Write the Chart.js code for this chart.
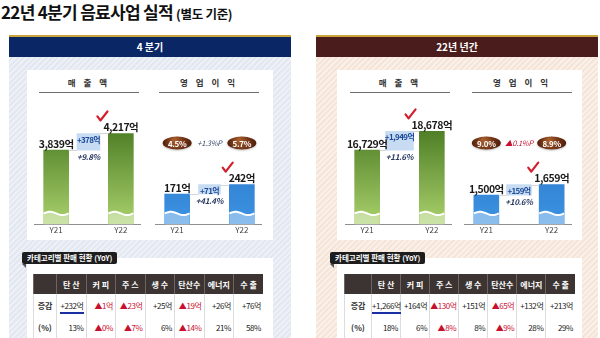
<!DOCTYPE html>
<html>
<head>
<meta charset="utf-8">
<script src="https://cdn.jsdelivr.net/npm/chart.js@4.4.0/dist/chart.umd.min.js"></script>
<style>
body { margin: 0; width: 600px; height: 338px; overflow: hidden; background: #fff; position: relative;
       font-family: "Noto Sans CJK KR", "Noto Sans", sans-serif; }
.abs { position: absolute; }
#title { left: 1px; top: -1px; font-size: 17px; font-weight: 700; color: #111; letter-spacing: -0.7px; line-height: 26px; white-space: nowrap; }
#title small { font-size: 12.5px; letter-spacing: -0.3px; }
.panel { top: 35px; height: 303px; width: 282px; border-top: 2px solid #c9a53b; }
#pQ4 { left: 9px; background: repeating-linear-gradient(135deg, #e2e7f0 0 2px, #edf0f6 2px 4px); }
#pYr { left: 316px; background: repeating-linear-gradient(135deg, #f5e4d8 0 2px, #fbf0e8 2px 4px); }
.head { position: absolute; left: 0; right: 0; top: 0; height: 20px; line-height: 20px; color: #fff;
        font-size: 10px; font-weight: 700; text-align: center; }
#pQ4 .head { background: #0b2664; }
#pYr .head { background: #4a1c1c; }
.white { background: #fff; }
.sub { width: 100px; height: 20px; font-size: 8.5px; font-weight: 700; color: #333; letter-spacing: 3px;
       text-align: center; line-height: 20px; border-bottom: 1.5px solid #6f6f6f; }
.chart { height: 150px; top: 90px; }
.tag { height: 12px; line-height: 12px; background: #1d1d1d; color: #fff; font-size: 7.5px; font-weight: 700;
       padding: 0 5px; border-radius: 2px; white-space: nowrap; }
.tag:after { content: ""; position: absolute; left: 0; top: 12px; border-top: 4px solid #555; border-left: 4px solid transparent; }
table { position: absolute; border-collapse: collapse; table-layout: fixed; font-size: 8px; }
th { background: #3b3432; color: #fff; height: 20px; padding: 0; font-weight: 700; border-left: 1px solid #6e6562; white-space: nowrap; }
td { height: 22px; padding: 0 2px 0 0; text-align: right; color: #222; border-left: 1px solid #dcdcdc; white-space: nowrap; letter-spacing: -0.4px; }
td.lbl { text-align: center; padding: 0; font-weight: 700; color: #333; letter-spacing: 0; }
tr:last-child td { border-bottom: 1px solid #8a8a8a; }
.down { color: #c8102e; }
.ul { border-bottom: 2px solid #1b2fa5; padding-bottom: 1px; }
</style>
</head>
<body>
<div id="title" class="abs">22년 4분기 음료사업 실적 <small>(별도 기준)</small></div>

<div id="pQ4" class="abs panel"><div class="head">4 분기</div></div>
<div id="pYr" class="abs panel"><div class="head">22년 년간</div></div>

<div class="abs white" style="left:27px;top:70px;width:246px;height:170px"></div>
<div class="abs white" style="left:337px;top:70px;width:245px;height:170px"></div>
<div class="abs white" style="left:27px;top:258px;width:246px;height:80px"></div>
<div class="abs white" style="left:337px;top:258px;width:245px;height:80px"></div>

<div class="abs sub" style="left:39px;top:72px">매 출 액</div>
<div class="abs sub" style="left:159px;top:72px">영 업 이 익</div>
<div class="abs sub" style="left:350px;top:72px">매 출 액</div>
<div class="abs sub" style="left:472px;top:72px">영 업 이 익</div>

<div class="abs chart" style="left:30px;width:117px"><canvas id="q4SalesChart"></canvas></div>
<div class="abs chart" style="left:151px;width:117px"><canvas id="q4ProfitChart"></canvas></div>
<div class="abs chart" style="left:341px;width:117px"><canvas id="yrSalesChart"></canvas></div>
<div class="abs chart" style="left:460px;width:118px"><canvas id="yrProfitChart"></canvas></div>

<div class="abs tag" style="left:22px;top:252px">카테고리별 판매 현황 (YoY)</div>
<div class="abs tag" style="left:330px;top:252px">카테고리별 판매 현황 (YoY)</div>
<table id="q4Table" style="left:33px;top:274px;width:230px"></table>
<table id="yrTable" style="left:344px;top:274px;width:231px"></table>

<script>
const periods = ['Y21', 'Y22'];

// 4분기
const q4Sales = [3839, 4217];
const q4Profit = [171, 242];
const q4Growth = [9.8, 41.4];     // 매출액, 영업이익 증가율(%)
const q4Margin = [4.5, 5.7];
const q4MarginChange = 1.3;

// 22년 년간
const yrSales = [16729, 18678];
const yrProfit = [1500, 1659];
const yrGrowth = [11.6, 10.6];
const yrMargin = [9.0, 8.9];
const yrMarginChange = -0.1;

// 카테고리별 판매 현황 (YoY)
const categories = ['탄산', '커피', '주스', '생수', '탄산수', '에너지', '수출'];
const q4CatAmount = [232, -1, -23, 25, -19, 26, 76];
const q4CatPct = [13, 0, -7, 6, -14, 21, 58];
const yrCatAmount = [1266, 164, -130, 151, -65, 132, 213];
const yrCatPct = [18, 6, -8, 8, -9, 28, 29];

const GREEN = ['#4e7e26', '#aad16c'];
const BLUE = ['#2872c6', '#3d93e2'];
const FONT = '"Noto Sans CJK KR", "Noto Sans", sans-serif';

const fmt = v => v.toLocaleString('en-US') + '억';

function barFill(colors) {
    return (c) => {
        const area = c.chart.chartArea;
        if (!area) return colors[0];
        const g = c.chart.ctx.createLinearGradient(0, area.top + 30, 0, area.bottom);
        g.addColorStop(0, colors[0]);
        g.addColorStop(1, colors[1]);
        return g;
    };
}

function drawCheck(ctx, vx, vy) {
    ctx.save();
    ctx.strokeStyle = '#d31f2b';
    ctx.lineWidth = 2.2;
    ctx.lineCap = 'round';
    ctx.lineJoin = 'round';
    ctx.beginPath();
    ctx.moveTo(vx - 3, vy - 4);
    ctx.lineTo(vx, vy);
    ctx.lineTo(vx + 7, vy - 9);
    ctx.stroke();
    ctx.restore();
}

function drawOval(ctx, x, y, text) {
    ctx.save();
    ctx.shadowColor = 'rgba(0,0,0,0.25)';
    ctx.shadowBlur = 2;
    ctx.shadowOffsetY = 1;
    const g = ctx.createRadialGradient(x - 3, y - 3, 1, x, y, 15);
    g.addColorStop(0, '#a65d2c');
    g.addColorStop(0.6, '#6d3014');
    g.addColorStop(1, '#4a1c08');
    ctx.fillStyle = g;
    ctx.beginPath();
    ctx.ellipse(x, y, 14.5, 6.5, 0, 0, Math.PI * 2);
    ctx.fill();
    ctx.restore();
    ctx.fillStyle = '#fff';
    ctx.font = 'bold 8px ' + FONT;
    ctx.textAlign = 'center';
    ctx.textBaseline = 'middle';
    ctx.fillText(text, x, y + 0.5);
}

const decor = {
    id: 'decor',
    afterDatasetsDraw(chart, args, opts) {
        const ctx = chart.ctx;
        const area = chart.chartArea;
        const bars = chart.getDatasetMeta(0).data;
        const diff = chart.getDatasetMeta(1).data[1];
        const a = bars[0], b = bars[2];
        ctx.save();

        // baseline
        ctx.strokeStyle = '#8f8f8f';
        ctx.lineWidth = 1;
        ctx.beginPath();
        ctx.moveTo(area.left - 6, Math.round(a.base) + 0.5);
        ctx.lineTo(area.right + 4, Math.round(a.base) + 0.5);
        ctx.stroke();

        // broken-axis wave near the bottom of each bar
        [a, b].forEach(bar => {
            const l = bar.x - bar.width / 2, r = bar.x + bar.width / 2, y0 = bar.base - 11;
            const wave = () => {
                ctx.moveTo(l, y0);
                for (let i = 1; i <= 14; i++) {
                    const t = i / 14;
                    ctx.lineTo(l + t * (r - l), y0 - 1.6 * Math.sin(t * Math.PI * 2));
                }
            };
            ctx.fillStyle = 'rgba(255,255,255,0.4)';
            ctx.beginPath();
            wave();
            ctx.lineTo(r, bar.base);
            ctx.lineTo(l, bar.base);
            ctx.closePath();
            ctx.fill();
            ctx.strokeStyle = '#fff';
            ctx.lineWidth = 2;
            ctx.beginPath();
            wave();
            ctx.stroke();
        });

        // connectors to the difference box
        const boxTop = Math.min(diff.y, diff.base), boxBot = Math.max(diff.y, diff.base);
        ctx.strokeStyle = '#d6d6d6';
        ctx.lineWidth = 1;
        ctx.beginPath();
        ctx.moveTo(a.x + a.width / 2, Math.round(a.y) + 0.5);
        ctx.lineTo(diff.x - diff.width / 2, Math.round(a.y) + 0.5);
        ctx.moveTo(diff.x + diff.width / 2, Math.round(b.y) + 0.5);
        ctx.lineTo(b.x - b.width / 2, Math.round(b.y) + 0.5);
        ctx.stroke();

        // value labels
        ctx.fillStyle = '#1a1a1a';
        ctx.font = 'bold 10.5px ' + FONT;
        ctx.letterSpacing = '-0.5px';
        ctx.textAlign = 'center';
        ctx.textBaseline = 'bottom';
        ctx.fillText(fmt(opts.values[0]), a.x, a.y - 1);
        ctx.fillText(fmt(opts.values[1]), b.x, b.y - 1);
        const w = ctx.measureText(fmt(opts.values[1])).width;
        drawCheck(ctx, b.x - w / 2 - 3, b.y - 13);

        // difference and growth
        ctx.letterSpacing = '-0.6px';
        ctx.textBaseline = 'middle';
        ctx.fillStyle = '#1c4a98';
        ctx.font = 'bold 8px ' + FONT;
        ctx.fillText('+' + fmt(opts.values[1] - opts.values[0]), diff.x, boxTop + 6);
        ctx.letterSpacing = '-0.3px';
        ctx.fillStyle = '#2c3d63';
        ctx.font = 'italic bold 8px ' + FONT;
        ctx.fillText('+' + opts.growth.toFixed(1) + '%', diff.x, boxBot + 7);

        // operating margin ovals
        if (opts.margin) {
            const my = area.top + 43;
            drawOval(ctx, a.x, my, opts.margin[0].toFixed(1) + '%');
            drawOval(ctx, b.x, my, opts.margin[1].toFixed(1) + '%');
            const ch = opts.marginChange;
            ctx.font = 'italic 7.5px ' + FONT;
            ctx.textAlign = 'center';
            ctx.textBaseline = 'middle';
            ctx.fillStyle = ch < 0 ? '#c8102e' : '#3b4a6b';
            ctx.fillText((ch < 0 ? '▲' : '+') + Math.abs(ch).toFixed(1) + '%P', diff.x, my);
        }
        ctx.restore();
    }
};

function makeBarChart(id, values, growth, colors, min, max, diffWidth, margin, marginChange) {
    return new Chart(document.getElementById(id), {
        type: 'bar',
        data: {
            labels: [periods[0], '', periods[1]],
            datasets: [{
                data: [values[0], null, values[1]],
                base: min,
                backgroundColor: barFill(colors),
                barThickness: 25,
                grouped: false
            }, {
                data: [null, [values[0], values[1]], null],
                backgroundColor: '#c7dcf3',
                barThickness: diffWidth,
                grouped: false
            }]
        },
        options: {
            responsive: true,
            maintainAspectRatio: false,
            animation: false,
            layout: { padding: { left: 10, right: 10, top: 10, bottom: 4 } },
            scales: {
                x: {
                    grid: { display: false, drawTicks: false },
                    border: { display: false },
                    ticks: { color: '#444', padding: 1, font: { size: 8, family: FONT } }
                },
                y: { display: false, min: min, max: max }
            },
            plugins: {
                legend: { display: false },
                tooltip: { enabled: false },
                decor: { values: values, growth: growth, margin: margin, marginChange: marginChange }
            }
        },
        plugins: [decor]
    });
}

makeBarChart('q4SalesChart', q4Sales, q4Growth[0], GREEN, 2162, 4973, 23);
makeBarChart('q4ProfitChart', q4Profit, q4Growth[1], BLUE, -58, 880, 22, q4Margin, q4MarginChange);
makeBarChart('yrSalesChart', yrSales, yrGrowth[0], GREEN, 9042, 21926, 28);
makeBarChart('yrProfitChart', yrProfit, yrGrowth[1], BLUE, 1055, 2947, 25, yrMargin, yrMarginChange);

function buildTable(id, amounts, pcts, firstWidth) {
    const table = document.getElementById(id);
    const head = '<tr><th style="width:' + firstWidth + 'px"></th>' +
        categories.map(c => '<th>' + (c.length === 2 ? c.split('').join(' ') : c) + '</th>').join('') + '</tr>';
    const amtRow = '<tr><td class="lbl">증감</td>' + amounts.map((v, i) => {
        const down = v < 0;
        let txt = down ? '▲' + fmt(-v) : '+' + fmt(v);
        if (i === 0) txt = '<span class="ul">' + txt + '</span>';
        return '<td class="' + (down ? 'down' : '') + '">' + txt + '</td>';
    }).join('') + '</tr>';
    const pctRow = '<tr><td class="lbl">(%)</td>' + pcts.map((v, i) => {
        const down = amounts[i] < 0;
        return '<td class="' + (down ? 'down' : '') + '">' + (down ? '▲' : '') + Math.abs(v) + '%</td>';
    }).join('') + '</tr>';
    table.innerHTML = head + amtRow + pctRow;
}

buildTable('q4Table', q4CatAmount, q4CatPct, 22);
buildTable('yrTable', yrCatAmount, yrCatPct, 26);
</script>
</body>
</html>
